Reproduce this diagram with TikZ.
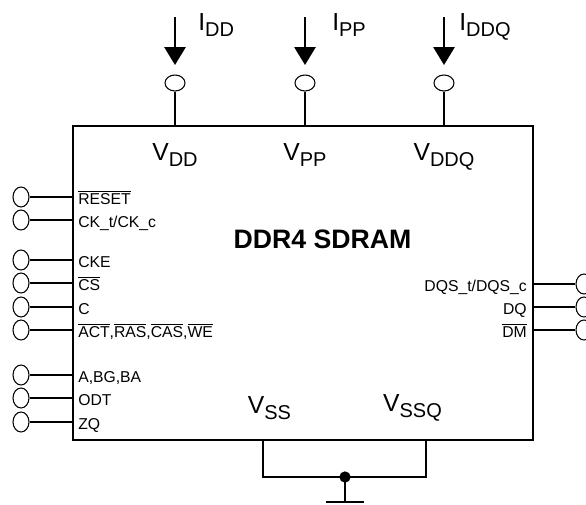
\documentclass[tikz,border=0pt]{standalone}
\usepackage{fontspec}
\setmainfont{Liberation Sans}
\usetikzlibrary{calc}
\usetikzlibrary{shapes}
\usetikzlibrary{arrows.meta}

\newcommand{\bigsub}[2]{{\fontsize{18.5}{20}\selectfont #1\raisebox{-0.25em}{\fontsize{15}{16}\selectfont #2}}}
\newcommand{\barred}[1]{$\overline{\mbox{#1}}$}

\tikzset{
    pinh/.style={draw,thick,ellipse,inner sep=0pt,minimum width=12pt,minimum height=15pt},
    pinv/.style={draw,thick,ellipse,inner sep=0pt,minimum width=15pt,minimum height=12pt},
    pintext/.style={inner sep=0pt,font=\fontsize{11.8}{14}\selectfont},
    wire/.style={line width=1.4pt},
    current/.style={line width=1.4pt,-{Triangle[length=13.5pt,width=16pt]}}
}

\begin{document}
\begin{tikzpicture}[x=0.75pt,y=-0.75pt]
    \useasboundingbox (0,0) rectangle (586,504);

    %chip
    \node[draw,line width=1.4pt,minimum width=345pt,minimum height=235.5pt,inner sep=0pt] (chip) at (303,283) {};
    \node[font=\bfseries\fontsize{20}{24}\selectfont] (title) at (322.5,239) {DDR4 SDRAM};

    %left pins
    \foreach \name/\ypos/\txt in {reset/197/\barred{RESET}, ck/220/{CK\_t/CK\_c}, cke/260/CKE, cs/283/\barred{CS}, c/307/C,
        act/330/{\barred{ACT},\barred{RAS},\barred{CAS},\barred{WE}}, a/375/{A,BG,BA}, odt/398/ODT, zq/422/ZQ} {
        \node[pinh] (\name) at (21,\ypos) {};
        \draw[wire] (\name.east) -- (\name.east -| chip.west);
        \node[pintext,anchor=base west] (\name text) at (78,\ypos+7) {\txt};
    }

    %right pins
    \foreach \name/\ypos/\txt in {dqs/284/{DQS\_t/DQS\_c}, dq/307/DQ, dm/330/\barred{DM}} {
        \node[pinh] (\name) at (584,\ypos) {};
        \draw[wire] (\name.west) -- (\name.west -| chip.east);
        \node[pintext,anchor=base east] (\name text) at (527,\ypos+7) {\txt};
    }

    %supply pins
    \foreach \name/\xpos/\gap/\subs in {dd/175/23/DD, pp/305/27/PP, ddq/444/15/DDQ} {
        \node[pinv] (\name) at (\xpos,83) {};
        \draw[wire] (\name.south) -- (\name.south |- chip.north);
        \coordinate (\name top) at (\xpos,17);
        \coordinate (\name tip) at (\xpos,65);
        \draw[current] (\name top) -- (\name tip);
        \node[inner sep=0pt,anchor=base west] (\name cur) at (\xpos+\gap,30) {\bigsub{I}{\subs}};
        \node[inner sep=0pt,anchor=base] (\name volt) at (\xpos,160) {\bigsub{V}{\subs}};
    }

    %ground
    \node[inner sep=0pt,anchor=base] (vss) at (269.5,413) {\bigsub{V}{SS}};
    \node[inner sep=0pt,anchor=base] (vssq) at (412.5,411) {\bigsub{V}{SSQ}};
    \coordinate (ssleft) at (263,440);
    \coordinate (ssright) at (426,440);
    \node[circle,fill,inner sep=0pt,minimum size=8.5pt] (dot) at (345,477) {};
    \coordinate (gnd) at (345,502);
    \coordinate (gndleft) at (326,502);
    \coordinate (gndright) at (364,502);
    \draw[wire] (ssleft) |- (dot.center) -| (ssright);
    \draw[wire] (dot.center) -- (gnd);
    \draw[wire] (gndleft) -- (gndright);
\end{tikzpicture}
\end{document}
